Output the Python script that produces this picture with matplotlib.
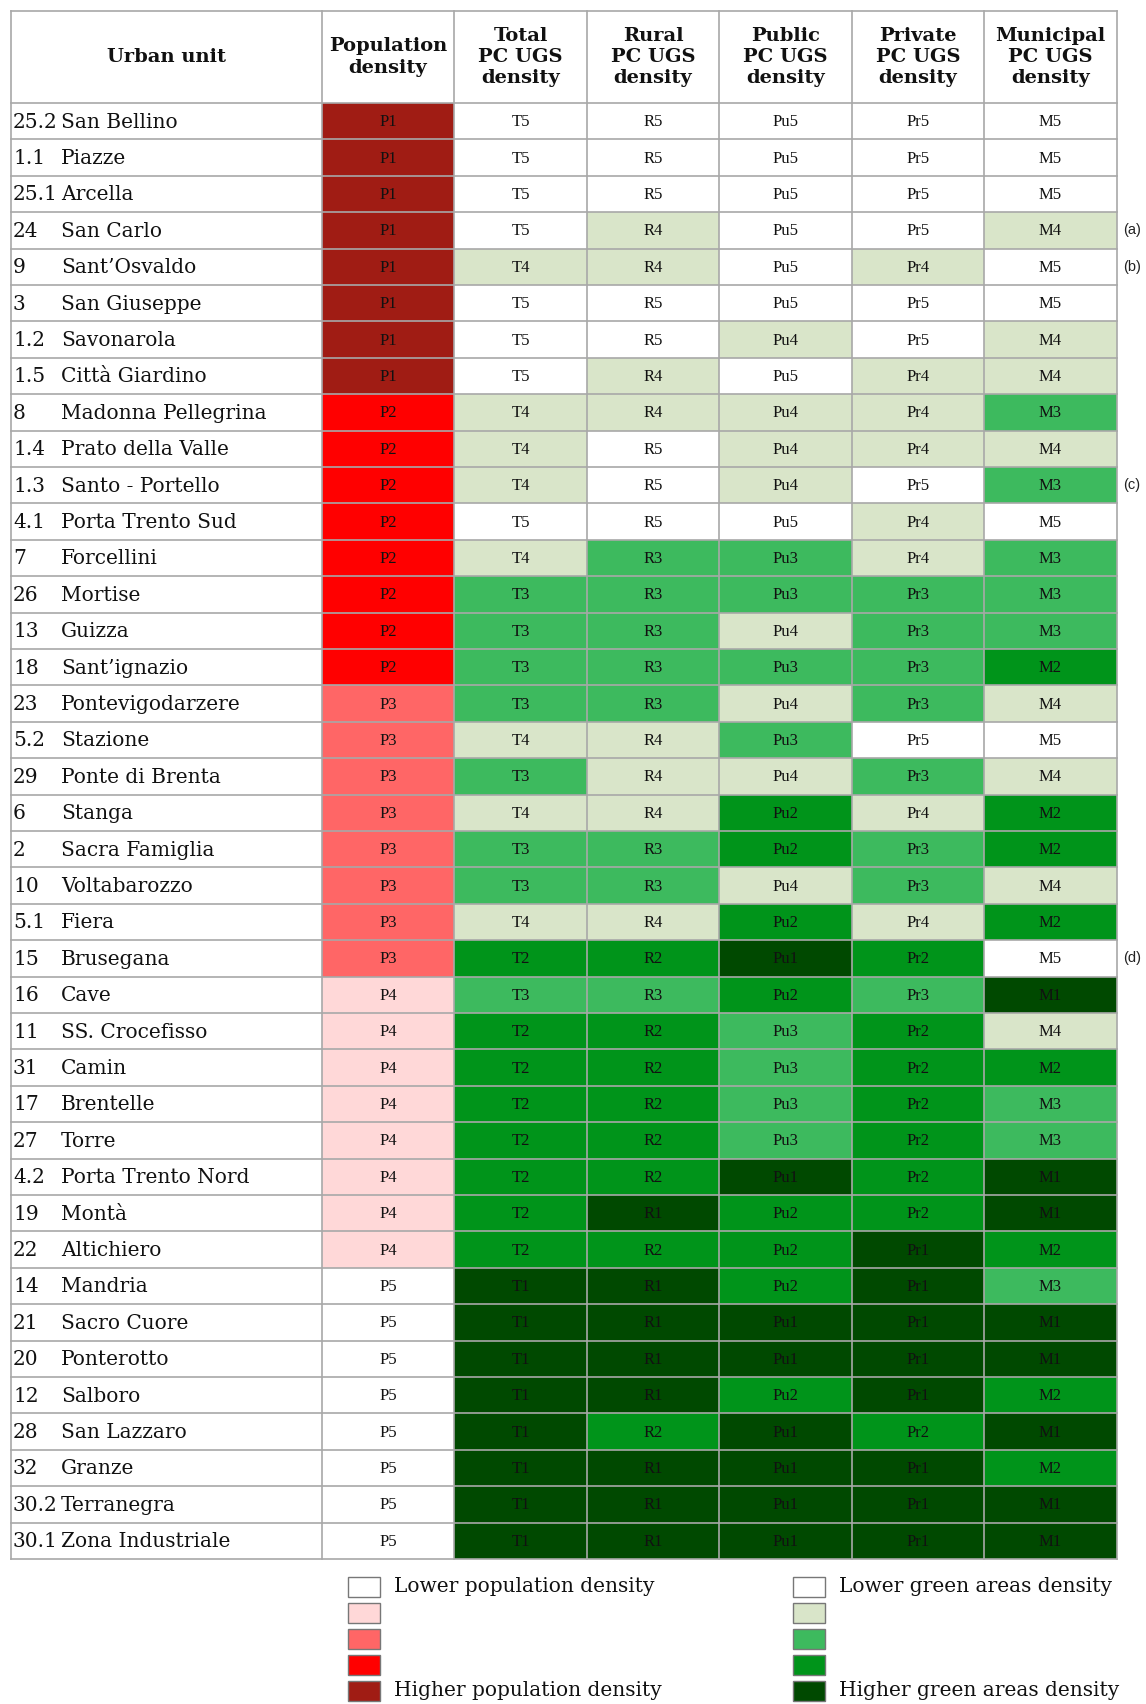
import matplotlib
matplotlib.use("Agg")
import matplotlib.pyplot as plt
from matplotlib.patches import Rectangle

# table data
unit_codes = ["25.2", "1.1", "25.1", "24", "9", "3", "1.2", "1.5", "8", "1.4",
              "1.3", "4.1", "7", "26", "13", "18", "23", "5.2", "29", "6",
              "2", "10", "5.1", "15", "16", "11", "31", "17", "27", "4.2",
              "19", "22", "14", "21", "20", "12", "28", "32", "30.2", "30.1"]
unit_names = ["San Bellino", "Piazze", "Arcella", "San Carlo", "Sant\u2019Osvaldo",
              "San Giuseppe", "Savonarola", "Città Giardino", "Madonna Pellegrina",
              "Prato della Valle", "Santo - Portello", "Porta Trento Sud", "Forcellini",
              "Mortise", "Guizza", "Sant\u2019ignazio", "Pontevigodarzere", "Stazione",
              "Ponte di Brenta", "Stanga", "Sacra Famiglia", "Voltabarozzo", "Fiera",
              "Brusegana", "Cave", "SS. Crocefisso", "Camin", "Brentelle", "Torre",
              "Porta Trento Nord", "Montà", "Altichiero", "Mandria", "Sacro Cuore",
              "Ponterotto", "Salboro", "San Lazzaro", "Granze", "Terranegra",
              "Zona Industriale"]
pop_class   = [1, 1, 1, 1, 1, 1, 1, 1, 2, 2, 2, 2, 2, 2, 2, 2, 3, 3, 3, 3,
               3, 3, 3, 3, 4, 4, 4, 4, 4, 4, 4, 4, 5, 5, 5, 5, 5, 5, 5, 5]
total_class = [5, 5, 5, 5, 4, 5, 5, 5, 4, 4, 4, 5, 4, 3, 3, 3, 3, 4, 3, 4,
               3, 3, 4, 2, 3, 2, 2, 2, 2, 2, 2, 2, 1, 1, 1, 1, 1, 1, 1, 1]
rural_class = [5, 5, 5, 4, 4, 5, 5, 4, 4, 5, 5, 5, 3, 3, 3, 3, 3, 4, 4, 4,
               3, 3, 4, 2, 3, 2, 2, 2, 2, 2, 1, 2, 1, 1, 1, 1, 2, 1, 1, 1]
public_class = [5, 5, 5, 5, 5, 5, 4, 5, 4, 4, 4, 5, 3, 3, 4, 3, 4, 3, 4, 2,
                2, 4, 2, 1, 2, 3, 3, 3, 3, 1, 2, 2, 2, 1, 1, 2, 1, 1, 1, 1]
private_class = [5, 5, 5, 5, 4, 5, 5, 4, 4, 4, 5, 4, 4, 3, 3, 3, 3, 5, 3, 4,
                 3, 3, 4, 2, 3, 2, 2, 2, 2, 2, 2, 1, 1, 1, 1, 1, 2, 1, 1, 1]
munic_class = [5, 5, 5, 4, 5, 5, 4, 4, 3, 4, 3, 5, 3, 3, 3, 2, 4, 5, 4, 2,
               2, 4, 2, 5, 1, 4, 2, 3, 3, 1, 1, 2, 3, 1, 1, 2, 1, 2, 1, 1]
notes = {3: "(a)", 4: "(b)", 10: "(c)", 23: "(d)"}

headers = ["Urban unit", "Population\ndensity", "Total\nPC UGS\ndensity",
           "Rural\nPC UGS\ndensity", "Public\nPC UGS\ndensity",
           "Private\nPC UGS\ndensity", "Municipal\nPC UGS\ndensity"]
prefixes = ["P", "T", "R", "Pu", "Pr", "M"]

red_cols = {1: "#a01c14", 2: "#ff0000", 3: "#ff6666", 4: "#ffd8d8", 5: "#ffffff"}
green_cols = {1: "#004900", 2: "#00941a", 3: "#3dba5e", 4: "#d9e5c9", 5: "#ffffff"}

pop_legend = ["Lower population density", "", "", "", "Higher population density"]
green_legend = ["Lower green areas density", "", "", "", "Higher green areas density"]

W, H = 1146, 1704
fig = plt.figure(figsize=(W / 100, H / 100), dpi=100)
ax = fig.add_axes([0, 0, 1, 1])
ax.set_xlim(0, W)
ax.set_ylim(H, 0)
ax.axis("off")

serif = "DejaVu Serif"
narrow = "Liberation Serif"
col_x = [11, 322, 454, 587, 719, 852, 984, 1117]
top, head_bot, row_h = 11, 103, 36.4
grid = "#a8a8a8"

# header
for j, h in enumerate(headers):
    ax.text((col_x[j] + col_x[j + 1]) / 2, (top + head_bot) / 2, h,
            ha="center", va="center", fontsize=14, fontweight="bold",
            family=serif, linespacing=1.22, color="#111111")

# body
columns = [pop_class, total_class, rural_class, public_class, private_class, munic_class]
for i in range(len(unit_codes)):
    y0 = head_bot + i * row_h
    yc = y0 + row_h / 2
    ax.text(13, yc + 1, unit_codes[i], ha="left", va="center", fontsize=14.5,
            family=serif, color="#111111")
    ax.text(61, yc + 1, unit_names[i], ha="left", va="center", fontsize=14.5,
            family=serif, color="#111111")
    for k, vals in enumerate(columns):
        cmap = red_cols if k == 0 else green_cols
        x0, x1 = col_x[k + 1], col_x[k + 2]
        ax.add_patch(Rectangle((x0, y0), x1 - x0, row_h, facecolor=cmap[vals[i]],
                               edgecolor="none", zorder=1))
        ax.text((x0 + x1) / 2, yc + 1, prefixes[k] + str(vals[i]), ha="center",
                va="center", fontsize=12, family=narrow, color="#111111", zorder=3)
    if i in notes:
        ax.text(1132, yc, notes[i], ha="center", va="center", fontsize=10.5,
                family="Liberation Sans", color="#222222")

bottom = head_bot + len(unit_codes) * row_h
for x in col_x:
    ax.plot([x, x], [top, bottom], color=grid, lw=1.2, zorder=2)
for y in [top, head_bot] + [head_bot + i * row_h for i in range(1, len(unit_codes) + 1)]:
    ax.plot([col_x[0], col_x[-1]], [y, y], color=grid, lw=1.2, zorder=2)

# legend
leg_y0, leg_dy = 1577, 26
for n in range(5):
    y = leg_y0 + n * leg_dy
    for bx, cmap, labels in [(348, red_cols, pop_legend), (793, green_cols, green_legend)]:
        ax.add_patch(Rectangle((bx, y), 32, 20, facecolor=cmap[5 - n],
                               edgecolor="#777777", lw=1))
        if labels[n]:
            ax.text(bx + 46, y + 10, labels[n], ha="left", va="center",
                    fontsize=14.5, family=serif, color="#111111")

fig.savefig("out.png", dpi=100)
